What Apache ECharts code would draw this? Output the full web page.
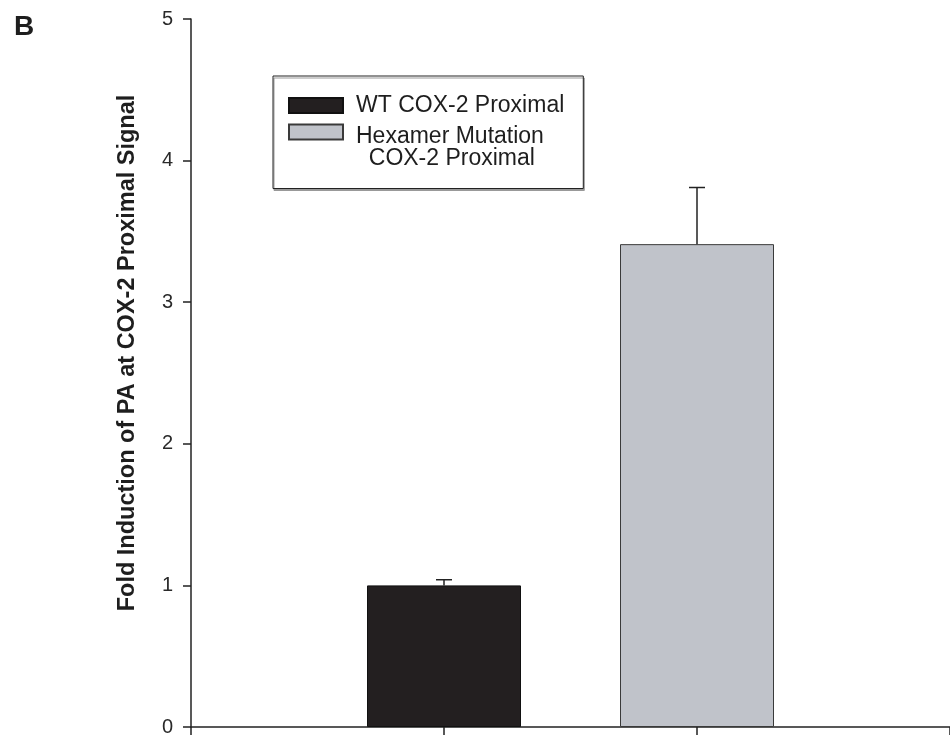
<!DOCTYPE html>
<html>
<head>
<meta charset="utf-8">
<title>Fold induction of PA at COX-2 proximal signal</title>
<script src="https://cdn.jsdelivr.net/npm/echarts@6/dist/echarts.min.js"></script>
<style>
  html, body { margin: 0; padding: 0; background: #fff; }
  #chart { width: 950px; height: 737px; }
</style>
</head>
<body>
<div id="chart"></div>
<script>
// data
const groupNames = ['WT COX-2 Proximal', 'Hexamer Mutation COX-2 Proximal'];
const groupPositions = [1, 2];
const meanValues = [1.0, 3.41];
const errorValues = [0.04, 0.40];
const barColors = ['#231f20', '#c0c3ca'];
const yMin = 0, yMax = 5, yStep = 1;
const xMin = 0, xMax = 3;

const chart = echarts.init(document.getElementById('chart'));

const font = 'Liberation Sans, Arial, sans-serif';
const ink = '#1e1e1e';

// one bar series per group so the legend gets an entry each
const barSeries = groupNames.map((name, i) => ({
  name: name,
  type: 'bar',
  barWidth: 154,
  barGap: '-100%',
  data: [[groupPositions[i], meanValues[i]]],
  itemStyle: {
    color: barColors[i],
    borderColor: i === 0 ? '#111' : '#3a3a3a',
    borderWidth: 1
  },
  emphasis: { disabled: true },
  z: 2
}));

// upper error bars only
const errorSeries = {
  type: 'custom',
  name: 'error',
  data: groupPositions.map((x, i) => [x, meanValues[i], errorValues[i]]),
  encode: { x: 0, y: 1 },
  z: 3,
  renderItem: function (params, api) {
    const x = api.value(0);
    const mean = api.value(1);
    const err = api.value(2);
    const base = api.coord([x, mean]);
    const top = api.coord([x, mean + err]);
    const half = 8;
    const style = { stroke: '#222', lineWidth: 1.5 };
    return {
      type: 'group',
      children: [
        { type: 'line', shape: { x1: base[0], y1: base[1], x2: top[0], y2: top[1] }, style: style },
        { type: 'line', shape: { x1: top[0] - half, y1: top[1], x2: top[0] + half, y2: top[1] }, style: style }
      ]
    };
  }
};

const legendFont = { fontFamily: font, fontSize: 23, color: ink };

const option = {
  animation: false,
  backgroundColor: '#fff',
  title: {
    text: 'B',
    left: 9,
    top: 8,
    textStyle: { fontFamily: font, fontSize: 28, fontWeight: 'bold', color: ink }
  },
  legend: {
    orient: 'vertical',
    left: 273,
    top: 76,
    padding: [18, 19, 18, 15],
    itemWidth: 54,
    itemHeight: 15,
    itemGap: -23,
    icon: 'rect',
    selectedMode: false,
    backgroundColor: '#fff',
    borderColor: '#222',
    borderWidth: 1,
    shadowColor: '#999',
    shadowBlur: 0,
    shadowOffsetX: 1,
    shadowOffsetY: 2,
    data: groupNames,
    // second entry wraps; a blank first line keeps its swatch level with "Hexamer Mutation"
    formatter: function (name) {
      if (name === groupNames[1]) {
        return '{pad| }\n{t|Hexamer Mutation}\n{t|  COX-2 Proximal}';
      }
      return '{t|' + name + '}';
    },
    textStyle: Object.assign({
      lineHeight: 22,
      rich: {
        pad: Object.assign({ lineHeight: 32 }, legendFont),
        t: Object.assign({ lineHeight: 22, padding: [0, 0, 0, 8] }, legendFont)
      }
    }, legendFont)
  },
  grid: { left: 191, top: 19, width: 766, height: 712, containLabel: false },
  xAxis: {
    type: 'value',
    min: xMin,
    max: xMax,
    interval: 1,
    axisLine: { show: true, lineStyle: { color: '#222', width: 1.5 } },
    axisTick: { show: true, length: 8, lineStyle: { color: '#222', width: 1.5 } },
    axisLabel: { show: false },
    splitLine: { show: false }
  },
  yAxis: {
    type: 'value',
    min: yMin,
    max: yMax,
    interval: yStep,
    name: 'Fold Induction of PA at COX-2 Proximal Signal',
    nameLocation: 'middle',
    nameGap: 51,
    nameTextStyle: { fontFamily: font, fontSize: 23.5, fontWeight: 'bold', color: ink, padding: [0, 0, 0, 40] },
    axisLine: { show: true, lineStyle: { color: '#222', width: 1.5 } },
    axisTick: { show: true, length: 8, lineStyle: { color: '#222', width: 1.5 } },
    axisLabel: { margin: 18, fontFamily: font, fontSize: 20, color: '#2a2a2a' },
    splitLine: { show: false }
  },
  series: barSeries.concat([errorSeries])
};

chart.setOption(option);
</script>
</body>
</html>
